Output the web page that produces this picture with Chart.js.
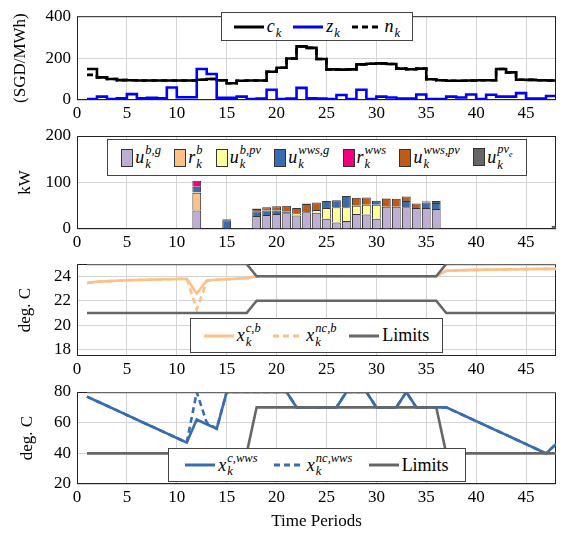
<!DOCTYPE html>
<html>
<head>
<meta charset="utf-8">
<script src="https://cdn.jsdelivr.net/npm/chart.js@4.4.0/dist/chart.umd.min.js"></script>
<style>
  body { margin: 0; background: #fff; }
  #wrap { position: relative; width: 567px; height: 538px; overflow: hidden; }
  .panel { position: absolute; left: 0; width: 567px; }
  .lg {
    position: absolute; background: #fff; border: 1px solid #444; box-sizing: border-box;
    display: flex; align-items: center; justify-content: space-evenly;
    font-family: "Liberation Serif", "DejaVu Serif", serif; font-size: 18px; color: #000;
  }
  .it { display: inline-flex; align-items: center; white-space: nowrap; }
  .mb { font-style: italic; }
  .ss { display: inline-flex; flex-direction: column; font-size: 12.5px; font-style: italic; line-height: 1.05; margin-left: 1px; }
  .box { display: inline-block; width: 10px; height: 16px; border: 1px solid #333; margin-right: 2px; }
  .up { font-style: normal; }
</style>
</head>
<body>
<div id="wrap">
  <div class="panel" style="top:0;height:118px"><canvas id="c1"></canvas></div>
  <div class="panel" style="top:118px;height:129px"><canvas id="c2"></canvas></div>
  <div class="panel" style="top:247px;height:127px"><canvas id="c3"></canvas></div>
  <div class="panel" style="top:374px;height:164px"><canvas id="c4"></canvas></div>
</div>
<script>
// ---- data ----
const periods = [1,2,3,4,5,6,7,8,9,10,11,12,13,14,15,16,17,18,19,20,21,22,23,24,25,26,27,28,29,30,31,32,33,34,35,36,37,38,39,40,41,42,43,44,45,46,47,48];
const xTicks = [0, 5, 10, 15, 20, 25, 30, 35, 40, 45];

// panel 1: prices (SGD/MWh), held over [k, k+1)
const priceC = [148,108,100,95,94,93,93,93,93,93,93,97,100,94,80,92,93,93,135,154,198,256,249,196,146,145,146,170,173,175,172,150,147,150,99,94,92,92,93,94,94,148,132,97,96,94,93,93];
const priceZ = [4,16,4,8,28,8,11,8,60,13,13,148,124,10,10,16,4,7,49,4,7,58,8,7,4,24,4,49,4,16,12,7,7,26,4,4,16,12,26,4,25,16,16,33,7,7,19,19];
const priceN = [120,108,100,95,94,93,93,93,93,93,93,97,100,94,80,92,93,93,135,154,198,256,249,196,146,145,146,170,173,175,172,150,147,150,99,94,92,92,93,94,94,148,132,97,96,94,93,93];
const yTicks1 = [0, 100, 200, 300, 400];

// panel 2: power (kW), stacked bars on the periods listed in barK
const barK       = [12,15,16,17,18,19,20,21,22,23,24,25,26,27,28,29,30,31,32,33,34,35,36,37,48];
const uBG        = [40, 0, 0, 0,28,30,32,34,29,36,35,22,14,17,32,31,22,48,48,47,45,45,43, 0, 0];
const rB         = [38, 0, 0, 0, 0, 0, 0, 0, 0, 0, 0, 0, 0, 0, 0, 0, 0, 0, 0, 0, 0, 0, 0, 0, 0];
const uBPV       = [ 1, 0, 0, 0, 0, 0, 0, 0, 5, 0, 6,23,33,30,18,21,30, 0, 0, 0, 0, 0, 0, 0, 0];
const uWWSG      = [12,19, 0, 0,10,10, 8, 3, 0, 0, 0,15,15,24, 0, 0, 9, 0, 0,13, 0,12,13, 0, 7];
const rWWS       = [13, 0, 0, 0, 0, 0, 0, 0, 0, 0, 0, 0, 0, 0, 0, 0, 0, 0, 0, 0, 0, 0, 0, 0, 0];
const uWWSPV     = [ 0, 0, 0, 0, 5, 7, 9,13,11,18,16, 0, 0, 0,17,16, 0,17,17,10,10, 2, 0, 0, 0];
const uPVE       = [ 0, 2, 2, 2, 1, 0, 0, 0, 0, 1, 0, 0, 0, 0, 0, 0, 0, 1, 0, 0, 0, 2, 4, 1, 0];
const yTicks2 = [0, 50, 100, 150, 200];

// panel 3: building temperature (deg. C)
const tempCB  = [23.45,23.55,23.6,23.64,23.67,23.7,23.72,23.74,23.76,23.78,23.8,22.6,23.65,23.72,23.76,23.8,23.85,24,24,24,24,24,24,24,24,24,24,24,24,24,24,24,24,24,24,24,24.45,24.48,24.5,24.52,24.54,24.55,24.56,24.57,24.58,24.59,24.6,24.6];
const tempNCB = [23.45,23.55,23.6,23.64,23.67,23.7,23.72,23.74,23.76,23.78,23.8,21.3,23.6,23.72,23.76,23.8,23.85,24,24,24,24,24,24,24,24,24,24,24,24,24,24,24,24,24,24,24,24.45,24.48,24.5,24.52,24.54,24.55,24.56,24.57,24.58,24.59,24.6,24.6];
const limLowB = [21,21,21,21,21,21,21,21,21,21,21,21,21,21,21,21,21,22,22,22,22,22,22,22,22,22,22,22,22,22,22,22,22,22,22,22,21,21,21,21,21,21,21,21,21,21,21,21];
const limUpB  = [25,25,25,25,25,25,25,25,25,25,25,25,25,25,25,25,25,24,24,24,24,24,24,24,24,24,24,24,24,24,24,24,24,24,24,24,25,25,25,25,25,25,25,25,25,25,25,25];
const yTicks3 = [18, 20, 22, 24];

// panel 4: water storage temperature (deg. C)
const tempCW  = [77,74,71,68,65,62,59,56,53,50,47,62,59,56,80,80,80,80,80,80,80,70,70,70,70,70,80,80,80,70,70,70,80,70,70,70,70,67,64,61,58,55,52,49,46,43,40,46];
const tempNCW = [77,74,71,68,65,62,59,56,53,50,47,80,60,56,80,80,80,80,80,80,80,70,70,70,70,70,80,80,80,70,70,70,80,70,70,70,70,67,64,61,58,55,52,49,46,43,40,46];
const limLowW = [40,40,40,40,40,40,40,40,40,40,40,40,40,40,40,40,40,70,70,70,70,70,70,70,70,70,70,70,70,70,70,70,70,70,70,70,40,40,40,40,40,40,40,40,40,40,40,40];
const limUpW  = [80,80,80,80,80,80,80,80,80,80,80,80,80,80,80,80,80,80,80,80,80,80,80,80,80,80,80,80,80,80,80,80,80,80,80,80,80,80,80,80,80,80,80,80,80,80,80,80];
const yTicks4 = [20, 40, 60, 80];

// ---- styling ----
const FONT = "'Liberation Serif', 'DejaVu Serif', serif";
const GRID = '#d4d4d4';
const GRAY = '#666666';
const ACCENT = ['#beaed4', '#fdc086', '#ffff99', '#386cb0', '#f0027f', '#bf5b17', '#666666'];

Chart.defaults.font.family = FONT;
Chart.defaults.color = '#000';

// draw the full box around each plot area (pgfplots style)
const framePlugin = {
  id: 'frame',
  beforeDatasetsDraw(chart) {
    const a = chart.chartArea, c = chart.ctx;
    c.save();
    c.strokeStyle = '#222';
    c.lineWidth = 1;
    c.strokeRect(a.left + 0.5, a.top + 0.5, a.right - a.left - 1, a.bottom - a.top - 1);
    c.restore();
  }
};

function pts(xs, ys) {
  return xs.map((x, i) => ({ x: x, y: ys[i] }));
}

function lineSet(data, color, width, dash, stepped) {
  return {
    data: pts(periods, data),
    borderColor: color,
    borderWidth: width,
    borderDash: dash || [],
    pointRadius: 0,
    fill: false,
    tension: 0,
    stepped: stepped || false
  };
}

function baseOptions(p) {
  return {
    responsive: true,
    maintainAspectRatio: false,
    animation: false,
    events: [],
    layout: { padding: { top: p.padTop, right: 11, left: 0, bottom: 0 } },
    plugins: { legend: { display: false }, tooltip: { enabled: false } },
    scales: {
      x: {
        type: 'linear',
        min: 0,
        max: 48,
        offset: false,
        stacked: !!p.stacked,
        afterBuildTicks: s => { s.ticks = xTicks.map(v => ({ value: v })); },
        afterFit: s => { s.height = p.xh; },
        grid: { color: GRID, drawTicks: false, offset: false },
        border: { display: false },
        ticks: { color: '#000', font: { size: 17 }, padding: 3, maxRotation: 0 },
        title: p.xtitle
          ? { display: true, text: p.xtitle, color: '#000', font: { size: 17 }, padding: { top: 0, bottom: 6 } }
          : { display: false }
      },
      y: {
        min: p.ymin,
        max: p.ymax,
        stacked: !!p.stacked,
        afterBuildTicks: s => { s.ticks = p.yTicks.map(v => ({ value: v })); },
        afterFit: s => { s.width = 77; },
        grid: { color: GRID, drawTicks: false },
        border: { display: false },
        ticks: { color: '#000', font: { size: 17 }, padding: 6 },
        title: { display: true, text: p.ytitle, color: '#000', font: { size: 17 }, padding: { top: p.titlePad, bottom: 0 } }
      }
    }
  };
}

// Panel 1 - prices (value k held from k to k+1)
new Chart(document.getElementById('c1'), {
  type: 'line',
  data: {
    datasets: [
      lineSet(priceN, '#000', 2.6, [6, 4], 'before'),
      lineSet(priceZ, '#0000ff', 2.6, null, 'before'),
      lineSet(priceC, '#000', 2.6, null, 'before')
    ]
  },
  options: baseOptions({ padTop: 9, xh: 18, ymin: 0, ymax: 400, yTicks: yTicks1, ytitle: '(SGD/MWh)', titlePad: 10 }),
  plugins: [framePlugin]
});

// Panel 2 - stacked power bars
const barSeries = [uBG, rB, uBPV, uWWSG, rWWS, uWWSPV, uPVE];
new Chart(document.getElementById('c2'), {
  type: 'bar',
  data: {
    datasets: barSeries.map((vals, i) => ({
      data: barK.map((k, j) => ({ x: k, y: vals[j] === 0 ? null : vals[j] })),
      backgroundColor: ACCENT[i],
      borderColor: '#333',
      borderWidth: 1,
      barPercentage: 0.88,
      categoryPercentage: 1,
      clip: 0
    }))
  },
  options: baseOptions({ padTop: 18, xh: 18, ymin: 0, ymax: 200, yTicks: yTicks2, ytitle: 'kW', titlePad: 15, stacked: true }),
  plugins: [framePlugin]
});

// Panel 3 - building temperature
new Chart(document.getElementById('c3'), {
  type: 'line',
  data: {
    datasets: [
      lineSet(limLowB, GRAY, 2.6),
      lineSet(limUpB, GRAY, 2.6),
      lineSet(tempNCB, '#fdc086', 2.6, [6, 4]),
      lineSet(tempCB, '#fdc086', 2.6)
    ]
  },
  options: baseOptions({ padTop: 17, xh: 18, ymin: 17.5, ymax: 25, yTicks: yTicks3, ytitle: 'deg. C', titlePad: 15 }),
  plugins: [framePlugin]
});

// Panel 4 - water storage temperature
new Chart(document.getElementById('c4'), {
  type: 'line',
  data: {
    datasets: [
      lineSet(limLowW, GRAY, 2.6),
      lineSet(limUpW, GRAY, 2.6),
      lineSet(tempNCW, '#386cb0', 2.6, [6, 4]),
      lineSet(tempCW, '#386cb0', 2.6)
    ]
  },
  options: baseOptions({ padTop: 18, xh: 54, ymin: 20, ymax: 80, yTicks: yTicks4, ytitle: 'deg. C', titlePad: 17, xtitle: 'Time Periods' }),
  plugins: [framePlugin]
});

// ---- legends (HTML text over the plots) ----
function math(base, sup, sub) {
  return '<span class="mb">' + base + '</span><span class="ss"><span>' + (sup || '&nbsp;') + '</span><span>' + sub + '</span></span>';
}
function lineSample(color, dash) {
  return '<svg width="30" height="8" style="margin-right:3px"><line x1="0" y1="4" x2="30" y2="4" stroke="' + color +
    '" stroke-width="3"' + (dash ? ' stroke-dasharray="6 4"' : '') + '/></svg>';
}
function boxSample(color) {
  return '<span class="box" style="background:' + color + '"></span>';
}
function addLegend(items, left, top, width, height) {
  const d = document.createElement('div');
  d.className = 'lg';
  d.style.left = left + 'px';
  d.style.top = top + 'px';
  d.style.width = width + 'px';
  d.style.height = height + 'px';
  d.innerHTML = items.map(it => '<span class="it">' + it + '</span>').join('');
  document.getElementById('wrap').appendChild(d);
}

addLegend([
  lineSample('#000') + math('c', '', 'k'),
  lineSample('#0000ff') + math('z', '', 'k'),
  lineSample('#000', true) + math('n', '', 'k')
], 221, 12, 192, 29);

addLegend([
  boxSample(ACCENT[0]) + math('u', 'b,g', 'k'),
  boxSample(ACCENT[1]) + math('r', 'b', 'k'),
  boxSample(ACCENT[2]) + math('u', 'b,pv', 'k'),
  boxSample(ACCENT[3]) + math('u', 'wws,g', 'k'),
  boxSample(ACCENT[4]) + math('r', 'wws', 'k'),
  boxSample(ACCENT[5]) + math('u', 'wws,pv', 'k'),
  boxSample(ACCENT[6]) + math('u', 'pv<sub style="font-size:8px">e</sub>', 'k')
], 107, 139, 420, 37);

addLegend([
  lineSample('#fdc086') + math('x', 'c,b', 'k'),
  lineSample('#fdc086', true) + math('x', 'nc,b', 'k'),
  lineSample(GRAY) + '<span class="up">Limits</span>'
], 190, 318, 253, 35);

addLegend([
  lineSample('#386cb0') + math('x', 'c,wws', 'k'),
  lineSample('#386cb0', true) + math('x', 'nc,wws', 'k'),
  lineSample(GRAY) + '<span class="up">Limits</span>'
], 168, 448, 298, 34);
</script>
</body>
</html>
